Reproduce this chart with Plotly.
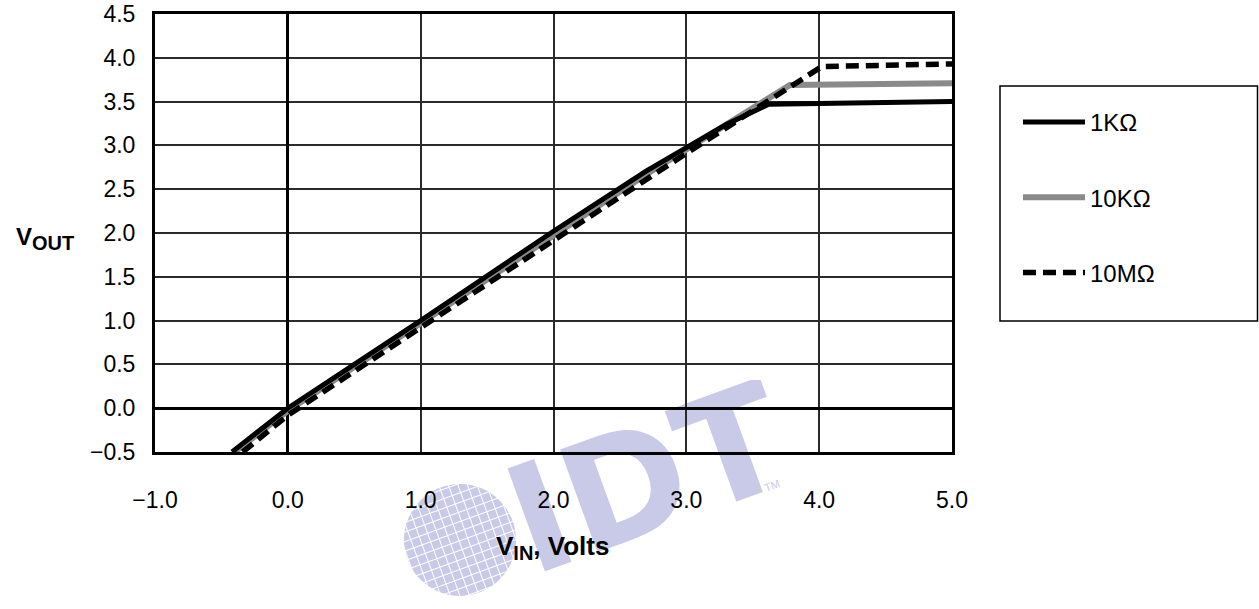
import base64
import plotly.graph_objects as go

# ---- data ----
series_names = ["1KΩ", "10KΩ", "10MΩ"]
vin_1k = [-0.42, 0.0, 1.0, 2.0, 2.7, 3.3, 3.62, 5.0]
vout_1k = [-0.50, 0.0, 1.0, 2.02, 2.71, 3.24, 3.47, 3.50]
vin_10k = [-0.40, 0.0, 1.0, 2.0, 2.7, 3.78, 5.0]
vout_10k = [-0.50, -0.03, 0.97, 1.98, 2.67, 3.69, 3.71]
vin_10m = [-0.34, 0.0, 1.0, 2.0, 3.0, 4.02, 5.0]
vout_10m = [-0.50, -0.08, 0.92, 1.92, 2.91, 3.90, 3.93]

x_range = [-1.0, 5.0]
y_range = [-0.5, 4.5]

W, H = 1259, 609
ML, MT = 155, 14
MR = W - 952
MB = H - 452
PW, PH = W - ML - MR, H - MT - MB

def px_x(p):
    return (p - ML) / PW

def px_y(p):
    return (H - MB - p) / PH

FONT = "Liberation Sans, Arial, Helvetica, sans-serif"
WM = "#c9c9e8"

fig = go.Figure()
fig.add_trace(go.Scatter(x=vin_10k, y=vout_10k, mode="lines", name=series_names[1],
                         legendgroup="b", legendrank=2,
                         line=dict(color="#8a8a8a", width=6)))
fig.add_trace(go.Scatter(x=vin_1k, y=vout_1k, mode="lines", name=series_names[0],
                         legendgroup="a", legendrank=1,
                         line=dict(color="#000000", width=5)))
fig.add_trace(go.Scatter(x=vin_10m, y=vout_10m, mode="lines", name=series_names[2],
                         legendgroup="c", legendrank=3,
                         line=dict(color="#000000", width=5.5, dash="13px,7px")))

axis_common = dict(
    showgrid=True, gridcolor="#2a2a2a", gridwidth=1.5,
    zeroline=True, zerolinecolor="#000000", zerolinewidth=2.5,
    showline=True, mirror=True, linecolor="#000000", linewidth=3,
    tickformat=".1f", tickfont=dict(family=FONT, size=23, color="#000"),
    ticks="", fixedrange=True, automargin=False, ticklabeloverflow="allow",
)
fig.update_xaxes(range=x_range, tick0=-1.0, dtick=1.0, ticklabelstandoff=25, **axis_common)
fig.update_yaxes(range=y_range, tick0=-0.5, dtick=0.5, ticklabelstandoff=12, **axis_common)

# watermark (decorative logo) drawn below the plot
svg = f'''<svg xmlns="http://www.w3.org/2000/svg" width="390" height="229" viewBox="0 0 390 229">
<defs><pattern id="g" width="9" height="9" patternUnits="userSpaceOnUse" patternTransform="rotate(-20)">
<rect width="9" height="9" fill="{WM}"/><path d="M0 0H9M0 0V9" stroke="#ffffff" stroke-width="2"/></pattern></defs>
<circle cx="60" cy="160" r="56" fill="url(#g)"/>
<text x="132" y="196" transform="rotate(-20 132 196)" font-family="DejaVu Sans, Liberation Sans" font-weight="bold" font-size="150" fill="{WM}">IDT</text>
<text x="366" y="112" transform="rotate(-20 366 112)" font-family="Liberation Sans, Arial" font-size="11" fill="{WM}">TM</text>
</svg>'''
src = "data:image/svg+xml;base64," + base64.b64encode(svg.encode("utf-8")).decode("ascii")
fig.add_layout_image(dict(source=src, xref="paper", yref="paper",
                          x=px_x(400), y=px_y(380), sizex=390 / PW, sizey=229 / PH,
                          xanchor="left", yanchor="top", sizing="stretch", layer="below"))

# legend frame
fig.add_shape(type="rect", xref="paper", yref="paper",
              x0=px_x(1000), x1=px_x(1257.5), y0=px_y(321), y1=px_y(86),
              line=dict(color="#000000", width=1.5), fillcolor="rgba(0,0,0,0)")

fig.add_annotation(text="<b>V<sub><span style='font-size:20px'>OUT</span></sub></b>",
                   xref="paper", yref="paper",
                   x=px_x(14), y=px_y(238), xanchor="left", yanchor="middle",
                   showarrow=False, font=dict(family=FONT, size=24, color="#000"))
fig.add_annotation(text="<b>V<sub><span style='font-size:20px'>IN</span></sub>, Volts</b>",
                   xref="paper", yref="paper",
                   x=px_x(552), y=px_y(547), xanchor="center", yanchor="middle",
                   showarrow=False, font=dict(family=FONT, size=26, color="#000"))

fig.update_layout(
    width=W, height=H,
    margin=dict(l=ML, r=MR, t=MT, b=MB, autoexpand=False),
    paper_bgcolor="#ffffff", plot_bgcolor="rgba(0,0,0,0)",
    font=dict(family=FONT, size=23, color="#000"),
    showlegend=True,
    legend=dict(x=px_x(1018), y=px_y(100), xanchor="left", yanchor="top",
                bgcolor="rgba(0,0,0,0)", borderwidth=0,
                font=dict(family=FONT, size=24, color="#000"),
                tracegroupgap=41, itemwidth=62),
)

fig.write_html("out.html", config={"displayModeBar": False},
               post_script="document.body.style.margin='0';document.body.style.overflow='hidden';")
